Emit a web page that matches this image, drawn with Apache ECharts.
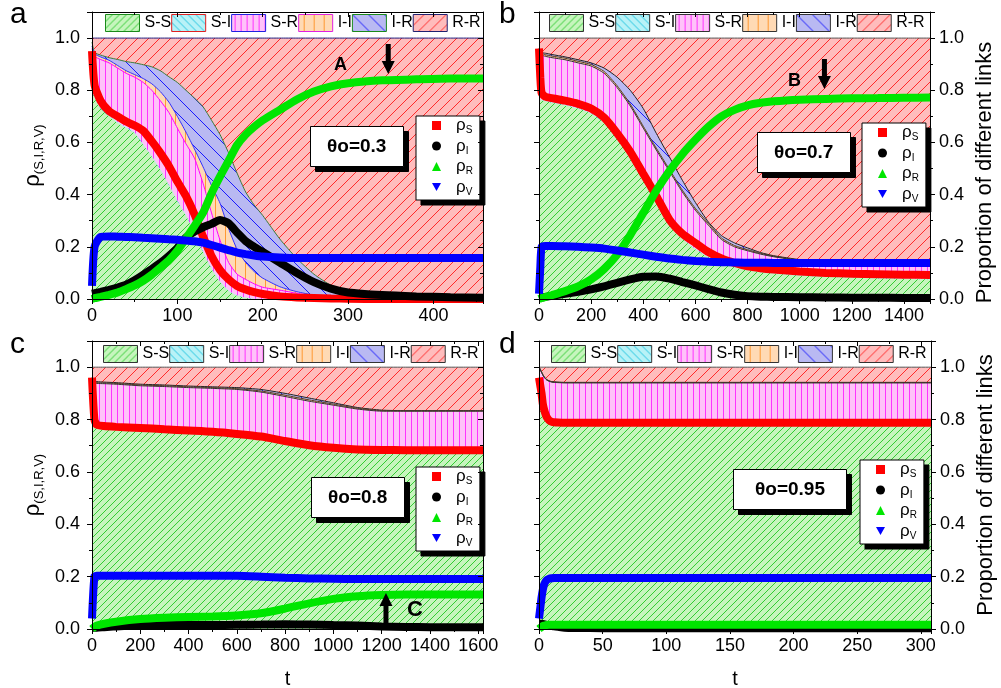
<!DOCTYPE html>
<html><head><meta charset="utf-8">
<script src="https://cdn.jsdelivr.net/npm/echarts@6/dist/echarts.min.js"></script>
<style>html,body{margin:0;padding:0;background:#fff}#c{width:1001px;height:688px}</style>
</head><body><div id="c"></div>
<script>
// ---------------- DATA ----------------
// cumulative link-type boundaries (top edge of each stacked band) and densities
// Panel a (theta0 = 0.3)
const aT   = [0,3,10,20,30,40,50,60,70,80,90,100,110,120,130,140,150,160,170,180,190,200,220,240,260,280,300,340,380,420,458];
const aSS  = [0.80,0.77,0.73,0.70,0.675,0.655,0.635,0.59,0.545,0.494,0.435,0.375,0.32,0.25,0.18,0.115,0.065,0.03,0.012,0.004,0,0,0,0,0,0,0,0,0,0,0];
const aSI  = [0.803,0.773,0.733,0.703,0.678,0.658,0.638,0.593,0.548,0.497,0.438,0.378,0.323,0.253,0.183,0.118,0.068,0.033,0.014,0.005,0.001,0,0,0,0,0,0,0,0,0,0];
const aSR  = [0.96,0.93,0.918,0.905,0.885,0.865,0.85,0.83,0.80,0.76,0.715,0.655,0.595,0.54,0.444,0.33,0.225,0.14,0.095,0.075,0.058,0.045,0.034,0.022,0.012,0.006,0.002,0,0,0,0];
const aII  = [0.97,0.94,0.928,0.915,0.895,0.875,0.86,0.845,0.825,0.795,0.755,0.70,0.64,0.575,0.507,0.435,0.367,0.27,0.19,0.14,0.105,0.08,0.047,0.028,0.015,0.007,0.003,0.001,0,0,0];
const aIR  = [0.985,0.945,0.935,0.925,0.918,0.91,0.905,0.898,0.89,0.875,0.852,0.83,0.80,0.77,0.737,0.685,0.63,0.56,0.482,0.41,0.36,0.32,0.23,0.155,0.095,0.052,0.022,0.006,0.002,0,0];
const aRR  = [1,1,1,1,1,1,1,1,1,1,1,1,1,1,1,1,1,1,1,1,1,1,1,1,1,1,1,1,1,1,1];
const aRhoS= [0.95,0.82,0.76,0.72,0.70,0.68,0.665,0.645,0.605,0.56,0.51,0.45,0.395,0.325,0.24,0.165,0.111,0.075,0.05,0.036,0.026,0.019,0.01,0.006,0.004,0.002,0.001,0,0,0,0];
const aRhoI= [0.02,0.022,0.027,0.035,0.044,0.055,0.072,0.093,0.115,0.138,0.165,0.195,0.235,0.258,0.275,0.288,0.303,0.29,0.255,0.222,0.2,0.18,0.14,0.1,0.065,0.04,0.025,0.015,0.01,0.007,0.005];
const aRhoR= [0,0.003,0.008,0.016,0.025,0.038,0.052,0.07,0.093,0.12,0.148,0.185,0.232,0.28,0.33,0.405,0.47,0.53,0.59,0.63,0.66,0.685,0.725,0.765,0.795,0.815,0.827,0.838,0.842,0.845,0.845];
const aRhoV= [0.05,0.2,0.238,0.24,0.239,0.238,0.237,0.235,0.233,0.231,0.229,0.227,0.224,0.221,0.216,0.207,0.197,0.187,0.178,0.172,0.167,0.163,0.159,0.157,0.157,0.157,0.157,0.157,0.157,0.157,0.157];

// Panel b (theta0 = 0.7)
const bT   = [0,5,10,25,50,100,150,200,250,300,350,400,450,500,550,600,650,700,750,800,850,900,1000,1100,1200,1300,1400,1500];
const bSS  = [0.77,0.765,0.762,0.758,0.752,0.742,0.73,0.71,0.675,0.615,0.545,0.46,0.375,0.285,0.23,0.19,0.16,0.138,0.122,0.11,0.103,0.098,0.09,0.085,0.082,0.079,0.077,0.076];
const bSI  = [0.772,0.767,0.764,0.76,0.754,0.744,0.732,0.712,0.677,0.617,0.547,0.462,0.377,0.287,0.232,0.192,0.162,0.14,0.124,0.112,0.105,0.1,0.092,0.087,0.084,0.081,0.079,0.078];
const bSR  = [0.95,0.94,0.935,0.93,0.925,0.917,0.905,0.893,0.865,0.81,0.74,0.655,0.571,0.49,0.41,0.34,0.283,0.228,0.2,0.185,0.172,0.162,0.147,0.138,0.133,0.129,0.126,0.125];
const bII  = [0.957,0.946,0.941,0.936,0.931,0.923,0.911,0.899,0.872,0.817,0.747,0.662,0.578,0.497,0.417,0.347,0.29,0.234,0.205,0.189,0.175,0.164,0.149,0.139,0.134,0.13,0.127,0.126];
const bIR  = [0.96,0.948,0.944,0.942,0.937,0.928,0.917,0.905,0.885,0.85,0.80,0.73,0.635,0.545,0.455,0.37,0.295,0.243,0.215,0.196,0.178,0.166,0.151,0.141,0.136,0.132,0.129,0.128];
const bRR  = [1,1,1,1,1,1,1,1,1,1,1,1,1,1,1,1,1,1,1,1,1,1,1,1,1,1,1,1];
const bRhoS= [0.96,0.85,0.79,0.775,0.77,0.76,0.748,0.73,0.695,0.635,0.565,0.48,0.395,0.305,0.25,0.215,0.18,0.155,0.138,0.125,0.118,0.113,0.105,0.1,0.097,0.095,0.093,0.092];
const bRhoI= [0.005,0.005,0.006,0.008,0.012,0.02,0.028,0.037,0.048,0.062,0.075,0.085,0.086,0.078,0.065,0.052,0.038,0.025,0.016,0.011,0.009,0.008,0.007,0.006,0.005,0.005,0.004,0.004];
const bRhoR= [0,0.002,0.004,0.008,0.015,0.03,0.048,0.075,0.115,0.17,0.245,0.33,0.415,0.49,0.555,0.61,0.66,0.7,0.725,0.742,0.752,0.758,0.764,0.767,0.769,0.77,0.771,0.772];
const bRhoV= [0.02,0.12,0.2,0.203,0.203,0.202,0.2,0.197,0.193,0.186,0.178,0.17,0.162,0.155,0.15,0.146,0.143,0.141,0.14,0.139,0.139,0.138,0.138,0.138,0.138,0.138,0.138,0.138];

// Panel c (theta0 = 0.8)
const cT   = [0,10,20,50,100,200,300,400,500,600,700,800,900,1000,1100,1200,1300,1400,1500,1620];
const cSS  = [0.79,0.775,0.767,0.762,0.759,0.755,0.75,0.745,0.74,0.732,0.722,0.705,0.689,0.679,0.673,0.671,0.67,0.67,0.67,0.67];
const cSI  = [0.792,0.777,0.769,0.764,0.761,0.757,0.752,0.747,0.742,0.734,0.724,0.707,0.691,0.681,0.675,0.673,0.672,0.672,0.672,0.672];
const cSR  = [0.95,0.94,0.938,0.937,0.935,0.929,0.926,0.922,0.919,0.915,0.905,0.888,0.87,0.855,0.84,0.832,0.832,0.832,0.832,0.832];
const cII  = [0.953,0.943,0.941,0.94,0.938,0.932,0.929,0.925,0.922,0.918,0.909,0.893,0.875,0.859,0.843,0.834,0.833,0.833,0.833,0.833];
const cIR  = [0.96,0.948,0.945,0.943,0.941,0.935,0.932,0.928,0.925,0.922,0.915,0.9,0.882,0.864,0.846,0.836,0.834,0.834,0.834,0.834];
const cRR  = [1,1,1,1,1,1,1,1,1,1,1,1,1,1,1,1,1,1,1,1];
const cRhoS= [0.96,0.8,0.78,0.775,0.772,0.768,0.763,0.758,0.753,0.745,0.735,0.718,0.702,0.692,0.686,0.684,0.683,0.683,0.683,0.683];
const cRhoI= [0.005,0.005,0.005,0.007,0.01,0.014,0.015,0.015,0.015,0.016,0.017,0.018,0.017,0.015,0.013,0.01,0.008,0.007,0.007,0.007];
const cRhoR= [0,0.008,0.013,0.02,0.028,0.038,0.043,0.046,0.048,0.052,0.06,0.078,0.098,0.115,0.125,0.13,0.132,0.132,0.132,0.132];
const cRhoV= [0.04,0.2,0.203,0.203,0.203,0.203,0.203,0.203,0.203,0.203,0.2,0.196,0.193,0.192,0.191,0.191,0.191,0.191,0.191,0.191];

// Panel d (theta0 = 0.95)
const dT   = [0,1,2,3,4,5,6,8,10,12,15,20,30,50,100,150,200,250,308];
const dSS  = [0.94,0.9,0.87,0.845,0.828,0.813,0.801,0.788,0.782,0.779,0.778,0.777,0.777,0.777,0.777,0.777,0.777,0.777,0.777];
const dSI  = [0.941,0.901,0.871,0.846,0.829,0.814,0.802,0.789,0.783,0.78,0.779,0.778,0.778,0.778,0.778,0.778,0.778,0.778,0.778];
const dSR  = [1.0,0.99,0.98,0.97,0.962,0.956,0.951,0.946,0.943,0.942,0.941,0.94,0.94,0.94,0.94,0.94,0.94,0.94,0.94];
const dII  = [1.0,0.991,0.981,0.971,0.963,0.957,0.952,0.947,0.944,0.943,0.942,0.941,0.941,0.941,0.941,0.941,0.941,0.941,0.941];
const dIR  = [1.0,0.992,0.982,0.972,0.964,0.958,0.953,0.948,0.945,0.944,0.943,0.942,0.942,0.942,0.942,0.942,0.942,0.942,0.942];
const dRR  = [1,1,1,1,1,1,1,1,1,1,1,1,1,1,1,1,1,1,1];
const dRhoS= [0.96,0.93,0.9,0.86,0.838,0.822,0.81,0.797,0.792,0.79,0.789,0.788,0.788,0.788,0.788,0.788,0.788,0.788,0.788];
const dRhoI= [0.02,0.02,0.02,0.019,0.018,0.017,0.016,0.014,0.012,0.01,0.008,0.005,0.004,0.003,0.003,0.003,0.003,0.003,0.003];
const dRhoR= [0,0.004,0.008,0.011,0.013,0.014,0.015,0.016,0.016,0.016,0.016,0.016,0.016,0.016,0.016,0.016,0.016,0.016,0.016];
const dRhoV= [0.04,0.08,0.12,0.15,0.17,0.18,0.187,0.192,0.194,0.195,0.195,0.195,0.195,0.195,0.195,0.195,0.195,0.195,0.195];

const linkNames = ['S-S','S-I','S-R','I-I','I-R','R-R'];
const rhoNames  = ['ρS','ρI','ρR','ρV'];
const thetaLabels = ['θo=0.3','θo=0.7','θo=0.8','θo=0.95'];
const panelLetters = ['a','b','c','d'];
const arrowLabels = ['A','B','C'];
const yTicks = [0,0.2,0.4,0.6,0.8,1.0];

// ---------------- STYLE ----------------
const FONT = 'Liberation Sans';
function hatch(bg, fg, type, p) {
  const c = document.createElement('canvas');
  c.width = p; c.height = p;
  const g = c.getContext('2d');
  g.fillStyle = bg; g.fillRect(0, 0, p, p);
  g.strokeStyle = fg; g.lineWidth = 1;
  g.beginPath();
  if (type === '/') {
    g.moveTo(-1, p + 1); g.lineTo(p + 1, -1);
    g.moveTo(-2, 2); g.lineTo(2, -2);
    g.moveTo(p - 2, p + 2); g.lineTo(p + 2, p - 2);
  } else if (type === '\\') {
    g.moveTo(-1, -1); g.lineTo(p + 1, p + 1);
    g.moveTo(p - 2, -2); g.lineTo(p + 2, 2);
    g.moveTo(-2, p - 2); g.lineTo(2, p + 2);
  } else {
    const x = Math.floor(p / 2) + 0.5;
    g.moveTo(x, 0); g.lineTo(x, p);
  }
  g.stroke();
  return { image: c, repeat: 'repeat' };
}
const PAT = {
  'S-S': hatch('#c6f5bd', '#33cc33', '/', 7),
  'S-I': hatch('#b8f2f7', '#22c4e0', '\\', 8),
  'S-R': hatch('#ffc2f9', '#ff33ff', '|', 6),
  'I-I': hatch('#ffdab5', '#ff9933', '|', 10),
  'I-R': hatch('#b9b9f2', '#1a1aff', '\\', 16),
  'R-R': hatch('#ffbcbc', '#ff2a2a', '/', 11)
};
const rhoColors = {'ρS': '#ff0000', 'ρI': '#000000', 'ρR': '#00e600', 'ρV': '#0000ff'};
const rhoIcons = {'ρS': 'rect', 'ρI': 'circle', 'ρR': 'triangle', 'ρV': 'path://M0,0L10,0L5,9Z'};

const panels = [
  {T: aT, L: {'S-S': aSS, 'S-I': aSI, 'S-R': aSR, 'I-I': aII, 'I-R': aIR, 'R-R': aRR}, R: {'ρS': aRhoS, 'ρI': aRhoI, 'ρR': aRhoR, 'ρV': aRhoV}},
  {T: bT, L: {'S-S': bSS, 'S-I': bSI, 'S-R': bSR, 'I-I': bII, 'I-R': bIR, 'R-R': bRR}, R: {'ρS': bRhoS, 'ρI': bRhoI, 'ρR': bRhoR, 'ρV': bRhoV}},
  {T: cT, L: {'S-S': cSS, 'S-I': cSI, 'S-R': cSR, 'I-I': cII, 'I-R': cIR, 'R-R': cRR}, R: {'ρS': cRhoS, 'ρI': cRhoI, 'ρR': cRhoR, 'ρV': cRhoV}},
  {T: dT, L: {'S-S': dSS, 'S-I': dSI, 'S-R': dSR, 'I-I': dII, 'I-R': dIR, 'R-R': dRR}, R: {'ρS': dRhoS, 'ρI': dRhoI, 'ρR': dRhoR, 'ρV': dRhoV}}
];

// layout (pixels)
const layout = [
  {grid: {left: 92, top: 12, width: 391, height: 287}, xmax: 458, xint: 100, leftLabels: true, rightLabels: false, xName: '',
   legendTop: {left: 105, top: 14}, rhoLegend: {left: 416, top: 116}, theta: {left: 310, top: 126, pad: [11, 17]}, letter: {left: 10, top: 0}},
  {grid: {left: 539, top: 12, width: 391, height: 287}, xmax: 1500, xint: 200, leftLabels: false, rightLabels: true, xName: '',
   legendTop: {left: 549, top: 14}, rhoLegend: {left: 862, top: 123}, theta: {left: 757, top: 132, pad: [11, 17]}, letter: {left: 499, top: 0}},
  {grid: {left: 92, top: 341, width: 391, height: 288}, xmax: 1620, xint: 200, leftLabels: true, rightLabels: false, xName: 't',
   legendTop: {left: 103, top: 345}, rhoLegend: {left: 416, top: 467}, theta: {left: 311, top: 477, pad: [11, 17]}, letter: {left: 10, top: 330}},
  {grid: {left: 539, top: 341, width: 392, height: 288}, xmax: 308, xint: 50, leftLabels: false, rightLabels: true, xName: 't',
   legendTop: {left: 551, top: 345}, rhoLegend: {left: 860, top: 460}, theta: {left: 733, top: 469, pad: [11, 22]}, letter: {left: 499, top: 330}}
];
const SHADOW = 5;
const RHO_PAD = [1, 7, 3, 16];

// boundary line colours of the stacked bands
const bandLine = [
  {'S-S': null, 'S-I': null, 'S-R': '#ff00ff', 'I-I': '#3030ff', 'I-R': '#3a7a3a', 'R-R': '#202080'},
  {'S-S': null, 'S-I': null, 'S-R': '#333', 'I-I': '#5a3a20', 'I-R': '#222', 'R-R': '#555'},
  {'S-S': null, 'S-I': null, 'S-R': '#333', 'I-I': '#5a3a20', 'I-R': '#222', 'R-R': '#555'},
  {'S-S': null, 'S-I': null, 'S-R': '#333', 'I-I': '#5a3a20', 'I-R': '#222', 'R-R': '#555'}
];
const swatchBorder = [
  {'S-S': '#1a8a1a', 'S-I': '#e02020', 'S-R': '#2020e0', 'I-I': '#e020e0', 'I-R': '#1a8a1a', 'R-R': '#202070'},
  {'S-S': '#333', 'S-I': '#333', 'S-R': '#333', 'I-I': '#333', 'I-R': '#333', 'R-R': '#333'},
  {'S-S': '#333', 'S-I': '#333', 'S-R': '#333', 'I-I': '#333', 'I-R': '#333', 'R-R': '#333'},
  {'S-S': '#333', 'S-I': '#333', 'S-R': '#333', 'I-I': '#333', 'I-R': '#333', 'R-R': '#333'}
];
// arrows and their letters (data coordinates)
const arrows = [
  {p: 0, t: 347, v: 0.92, up: false, lt: 291, lv: 0.895, fs: 18},
  {p: 1, t: 1095, v: 0.862, up: false, lt: 980, lv: 0.835, fs: 18},
  {p: 2, t: 1218, v: 0.08, up: true, lt: 1338, lv: 0.073, fs: 22}
];

const zip = (T, V) => T.map((t, k) => [t, V[k]]);
const axisBase = (i) => ({
  type: 'value', gridIndex: i, z: 10,
  axisLine: {show: true, onZero: false, lineStyle: {color: '#000', width: 1}},
  splitLine: {show: false}, minorSplitLine: {show: false}
});

const grids = [], xAxes = [], yAxes = [], series = [], legends = [], titles = [];
const rhoFormatter = name => '{r|ρ}{s|' + name.slice(1) + '}';
const rhoRich = (col) => ({
  r: {fontSize: 17, fontFamily: FONT, color: col, lineHeight: 20, padding: [0, 0, 0, 10]},
  s: {fontSize: 10, fontFamily: FONT, color: col, lineHeight: 12, verticalAlign: 'bottom'}
});

panels.forEach((P, i) => {
  const Ly = layout[i];
  grids.push(Object.assign({show: true, backgroundColor: '#fff', borderWidth: 0, containLabel: false, outerBoundsMode: 'none'}, Ly.grid));
  const xfmt = v => (Math.abs(v / Ly.xint - Math.round(v / Ly.xint)) < 1e-6) ? String(v) : '';
  xAxes.push(Object.assign(axisBase(i), {
    position: 'bottom', min: 0, max: Ly.xmax, interval: Ly.xint,
    axisTick: {show: true, inside: false, length: 5, lineStyle: {color: '#000'}},
    minorTick: {show: true, splitNumber: 2, length: 3, lineStyle: {color: '#000'}},
    axisLabel: {show: true, fontSize: 18, fontFamily: FONT, color: '#000', margin: 8, formatter: xfmt, hideOverlap: false},
    name: Ly.xName, nameLocation: 'middle', nameGap: 40,
    nameTextStyle: {fontSize: 20, fontFamily: FONT, color: '#000'}
  }));
  xAxes.push(Object.assign(axisBase(i), {
    position: 'top', min: 0, max: Ly.xmax, interval: Ly.xint,
    axisTick: {show: true, inside: true, length: 5, lineStyle: {color: '#000'}},
    minorTick: {show: true, splitNumber: 2, length: 3, lineStyle: {color: '#000'}},
    axisLabel: {show: false}
  }));
  const yfmt = v => (yTicks.some(t => Math.abs(t - v) < 1e-6)) ? v.toFixed(1) : '';
  yAxes.push(Object.assign(axisBase(i), {
    position: 'left', min: 0, max: 1.1, interval: 0.2,
    axisTick: {show: true, inside: false, length: 5, lineStyle: {color: '#000'}},
    minorTick: {show: true, splitNumber: 2, length: 3, lineStyle: {color: '#000'}},
    axisLabel: {show: Ly.leftLabels, fontSize: 18, fontFamily: FONT, color: '#000', margin: 12, formatter: yfmt},
    name: Ly.leftLabels ? '{r|ρ}{s|(S,I,R,V)}' : '', nameLocation: 'middle', nameGap: 46, nameRotate: 90,
    nameTextStyle: {rich: {
      r: {fontSize: 22, fontFamily: FONT, color: '#000', lineHeight: 26},
      s: {fontSize: 13, fontFamily: FONT, color: '#000', lineHeight: 14, verticalAlign: 'bottom'}
    }}
  }));
  yAxes.push(Object.assign(axisBase(i), {
    position: 'right', min: 0, max: 1.1, interval: 0.2,
    axisTick: {show: true, inside: !Ly.rightLabels, length: 5, lineStyle: {color: '#000'}},
    minorTick: {show: true, splitNumber: 2, length: 3, lineStyle: {color: '#000'}},
    axisLabel: {show: Ly.rightLabels, fontSize: 18, fontFamily: FONT, color: '#000', margin: 9, formatter: yfmt},
    name: Ly.rightLabels ? 'Proportion of different links' : '', nameLocation: 'middle', nameGap: 44, nameRotate: 90,
    nameTextStyle: {fontSize: 22, fontFamily: FONT, color: '#000', padding: i === 1 ? [0, 34, 0, 0] : 0}
  }));

  // stacked link bands, drawn from the top band down so each lower band covers the upper one
  ['R-R', 'I-R', 'I-I', 'S-R', 'S-I', 'S-S'].forEach(n => {
    const lc = bandLine[i][n];
    series.push({
      type: 'line', name: n, xAxisIndex: 2 * i, yAxisIndex: 2 * i,
      data: zip(P.T, P.L[n]), symbol: 'none', showSymbol: false, smooth: 0.2,
      lineStyle: {width: lc ? 1 : 0, color: lc || '#000'},
      itemStyle: {color: '#888'},
      areaStyle: {color: PAT[n], opacity: 1, origin: 'start'},
      silent: true, z: 1, animation: false
    });
  });
  // densities
  rhoNames.forEach(n => {
    const s = {
      type: 'line', name: n, xAxisIndex: 2 * i, yAxisIndex: 2 * i,
      data: zip(P.T, P.R[n]), symbol: 'none', showSymbol: false, smooth: 0.2,
      lineStyle: {width: 8, color: rhoColors[n]}, itemStyle: {color: rhoColors[n]},
      silent: true, z: 3, animation: false
    };
    if (n === 'ρR') {
      const md = [];
      arrows.filter(a => a.p === i).forEach(a => {
        md.push({coord: [a.t, a.v], symbol: 'path://M4,0L9,0L9,17L13,17L6.5,30L0,17L4,17Z',
          symbolSize: [13, 30], symbolRotate: a.up ? 180 : 0, itemStyle: {color: '#000'}, label: {show: false}});
        md.push({coord: [a.lt, a.lv], symbol: 'circle', symbolSize: 1, itemStyle: {color: 'rgba(0,0,0,0)'},
          label: {show: true, position: 'inside', formatter: arrowLabels[i], fontSize: a.fs, fontWeight: 'bold', fontFamily: FONT, color: '#000'}});
      });
      if (md.length) s.markPoint = {data: md, silent: true, animation: false, z: 5};
    }
    series.push(s);
  });

  legends.push({
    left: Ly.legendTop.left, top: Ly.legendTop.top, orient: 'horizontal', selectedMode: false,
    itemWidth: 34, itemHeight: 17, itemGap: 0, padding: 0, z: 6,
    textStyle: {fontSize: 16, fontFamily: FONT, color: '#000'},
    data: linkNames.map(n => ({name: n, icon: 'rect',
      itemStyle: {color: PAT[n], borderColor: swatchBorder[i][n], borderWidth: 1, opacity: 1}}))
  });
  // solid black drop shadow of the density legend (same box, offset)
  legends.push({
    left: Ly.rhoLegend.left + SHADOW, top: Ly.rhoLegend.top + SHADOW, orient: 'vertical', selectedMode: false,
    itemWidth: 9, itemHeight: 9, itemGap: 2, padding: RHO_PAD, z: 5,
    backgroundColor: '#000', borderColor: '#000', borderWidth: 1,
    formatter: rhoFormatter, textStyle: {color: '#000', rich: rhoRich('#000')},
    data: rhoNames.map(n => ({name: n, icon: rhoIcons[n], itemStyle: {color: '#000', borderWidth: 0}}))
  });
  legends.push({
    left: Ly.rhoLegend.left, top: Ly.rhoLegend.top, orient: 'vertical', selectedMode: false,
    itemWidth: 9, itemHeight: 9, itemGap: 2, padding: RHO_PAD, z: 6,
    backgroundColor: '#fff', borderColor: '#000', borderWidth: 1,
    formatter: rhoFormatter, textStyle: {color: '#000', rich: rhoRich('#000')},
    data: rhoNames.map(n => ({name: n, icon: rhoIcons[n], itemStyle: {color: rhoColors[n], borderWidth: 0}}))
  });
  titles.push({
    text: thetaLabels[i], left: Ly.theta.left + SHADOW, top: Ly.theta.top + SHADOW, padding: Ly.theta.pad, z: 5,
    backgroundColor: '#000', borderColor: '#000', borderWidth: 1,
    textStyle: {fontSize: 19, fontWeight: 'bold', fontFamily: FONT, color: '#000'}
  });
  titles.push({
    text: thetaLabels[i], left: Ly.theta.left, top: Ly.theta.top, padding: Ly.theta.pad, z: 6,
    backgroundColor: '#fff', borderColor: '#000', borderWidth: 1,
    textStyle: {fontSize: 19, fontWeight: 'bold', fontFamily: FONT, color: '#000'}
  });
  titles.push({
    text: panelLetters[i], left: Ly.letter.left, top: Ly.letter.top, padding: 0, z: 6,
    textStyle: {fontSize: 30, fontWeight: 'normal', fontFamily: FONT, color: '#000'}
  });
});

const chart = echarts.init(document.getElementById('c'), null, {renderer: 'canvas', width: 1001, height: 688});
chart.setOption({
  animation: false,
  backgroundColor: '#fff',
  grid: grids, xAxis: xAxes, yAxis: yAxes,
  legend: legends, title: titles, series: series
});
</script></body></html>
